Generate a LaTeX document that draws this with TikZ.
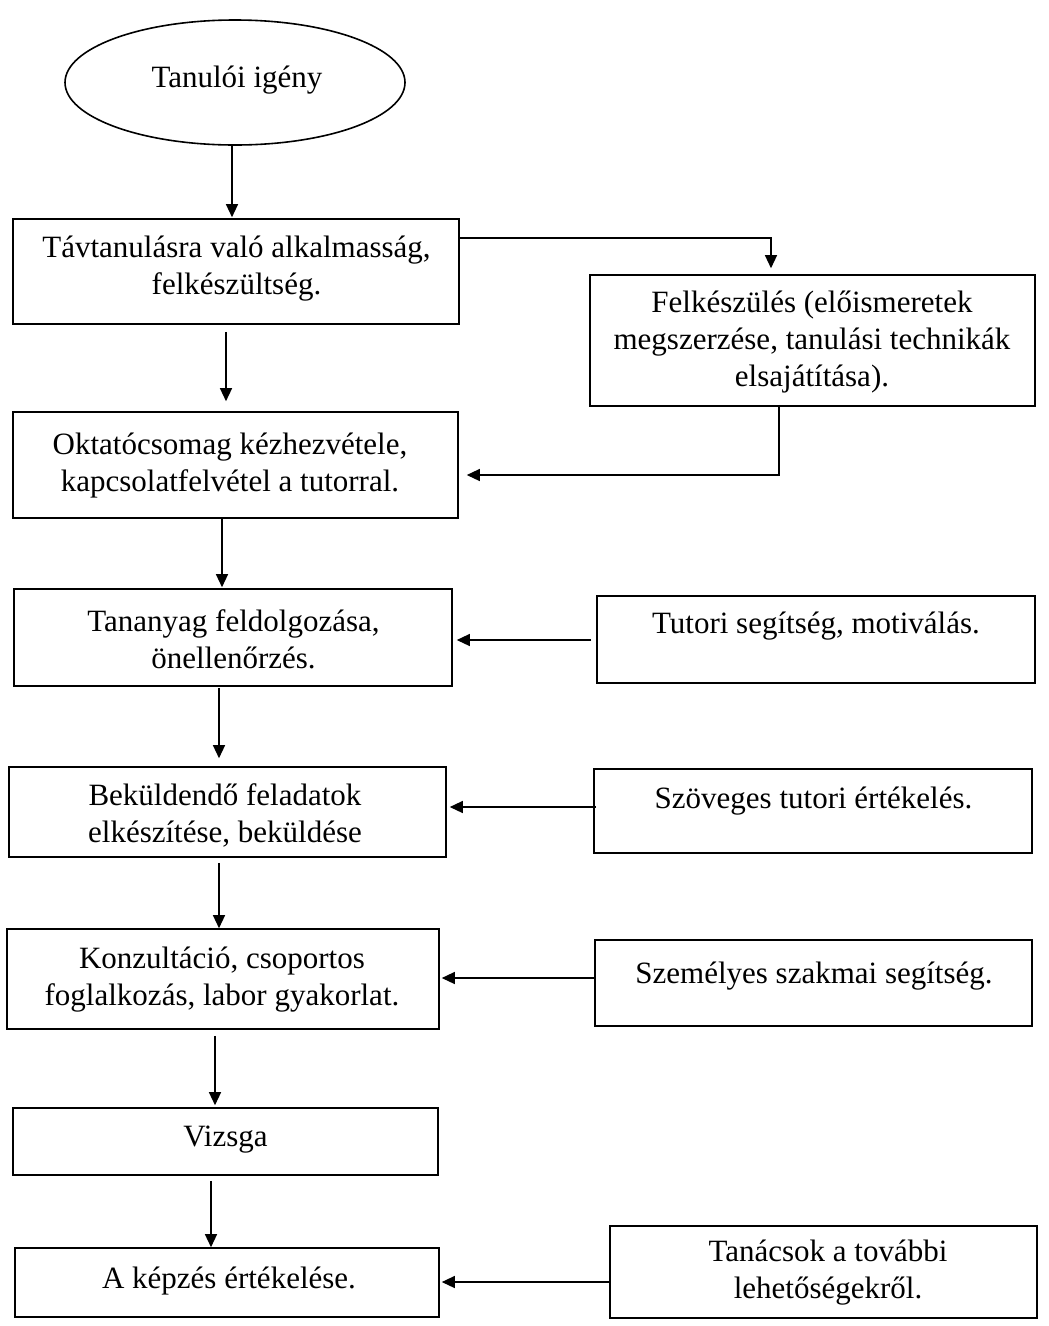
\documentclass[tikz,border=0pt]{standalone}
\usepackage{fontspec}
\setmainfont{Liberation Serif}
\usetikzlibrary{shapes.geometric,arrows.meta}
\begin{document}
\begin{tikzpicture}[x=1pt,y=-1pt,
  box/.style={draw, line width=1.6pt, inner sep=0pt},
  txt/.style={align=center, inner sep=0pt, font=\fontsize{31}{37}\selectfont},
  arr/.style={-{Triangle[length=13pt,width=12pt]}, line width=1.3pt}]
\useasboundingbox (0,0) rectangle (1049,1326);
% boxes
\node[box, ellipse, minimum width=340pt, minimum height=125pt] (igeny) at (235,82.5) {};
\node[box, minimum width=446pt, minimum height=105pt] (b1) at (236,271.5) {};
\node[box, minimum width=445pt, minimum height=131pt] (felk) at (812.5,340.5) {};
\node[box, minimum width=445pt, minimum height=106pt] (b2) at (235.5,465) {};
\node[box, minimum width=438pt, minimum height=97pt] (b3) at (233,637.5) {};
\node[box, minimum width=438pt, minimum height=87pt] (tutor) at (816,639.5) {};
\node[box, minimum width=437pt, minimum height=90pt] (b4) at (227.5,812) {};
\node[box, minimum width=438pt, minimum height=84pt] (szov) at (813,811) {};
\node[box, minimum width=432pt, minimum height=100pt] (b5) at (223,979) {};
\node[box, minimum width=437pt, minimum height=86pt] (szem) at (813.5,983) {};
\node[box, minimum width=425pt, minimum height=67pt] (b6) at (225.5,1141.5) {};
\node[box, minimum width=424pt, minimum height=69pt] (b7) at (227,1282.5) {};
\node[box, minimum width=427pt, minimum height=92pt] (tanacs) at (823.5,1272) {};
% texts
\node[txt] (igenyt) at (237,80.5) {Tanulói igény};
\node[txt] (b1t) at (236.5,269) {Távtanulásra való alkalmasság,\\felkészültség.};
\node[txt] (felkt) at (812,342) {Felkészülés (előismeretek\\megszerzése, tanulási technikák\\elsajátítása).};
\node[txt] (b2t) at (230,466) {Oktatócsomag kézhezvétele,\\kapcsolatfelvétel a tutorral.};
\node[txt] (b3t) at (233.5,639) {Tananyag feldolgozása,\\önellenőrzés.};
\node[txt] (tutort) at (816,626) {Tutori segítség, motiválás.};
\node[txt] (b4t) at (225,815) {Beküldendő feladatok\\elkészítése, beküldése};
\node[txt] (szovt) at (813.5,801) {Szöveges tutori értékelés.};
\node[txt] (b5t) at (222,980) {Konzultáció, csoportos\\foglalkozás, labor gyakorlat.};
\node[txt] (szemt) at (814,976) {Személyes szakmai segítség.};
\node[txt] (b6t) at (225.5,1140) {Vizsga};
\node[txt] (b7t) at (229,1281) {A képzés értékelése.};
\node[txt] (tanacst) at (828,1273) {Tanácsok a további\\lehetőségekről.};
% vertical arrows
\draw[arr] ([xshift=-3pt]igeny.south) -- ([xshift=-4pt,yshift=1pt]b1.north);
\draw[arr] ([xshift=-10pt,yshift=-7pt]b1.south) -- ([xshift=-9.5pt,yshift=10pt]b2.north);
\draw[arr] ([xshift=-13.5pt,yshift=1pt]b2.south) -- ([xshift=-11pt,yshift=1pt]b3.north);
\draw[arr] ([xshift=-14pt,yshift=-1pt]b3.south) -- ([xshift=-8.5pt,yshift=8pt]b4.north);
\draw[arr] ([xshift=-8.5pt,yshift=-5pt]b4.south) -- ([xshift=-4pt,yshift=0pt]b5.north);
\draw[arr] ([xshift=-8pt,yshift=-6pt]b5.south) -- ([xshift=-10.5pt,yshift=2pt]b6.north);
\draw[arr] ([xshift=-14.5pt,yshift=-5pt]b6.south) -- ([xshift=-16pt,yshift=0pt]b7.north);
% side connectors
\draw[arr] ([yshift=33.5pt]b1.east) -| ([xshift=-41.5pt,yshift=6pt]felk.north);
\draw[arr] ([xshift=-33.5pt,yshift=2pt]felk.south) |- ([xshift=8pt,yshift=-10pt]b2.east);
\draw[arr, shorten <=5pt, shorten >=4pt] ([yshift=-0.5pt]tutor.west) -- ([yshift=-0.5pt]tutor.west -| b3.east);
\draw[arr, shorten <=-3pt, shorten >=3pt] ([yshift=4pt]szov.west) -- ([yshift=4pt]szov.west -| b4.east);
\draw[arr, shorten >=2pt] ([yshift=5pt]szem.west) -- ([yshift=5pt]szem.west -| b5.east);
\draw[arr, shorten >=2pt] ([yshift=-10pt]tanacs.west) -- ([yshift=-10pt]tanacs.west -| b7.east);
\end{tikzpicture}
\end{document}
